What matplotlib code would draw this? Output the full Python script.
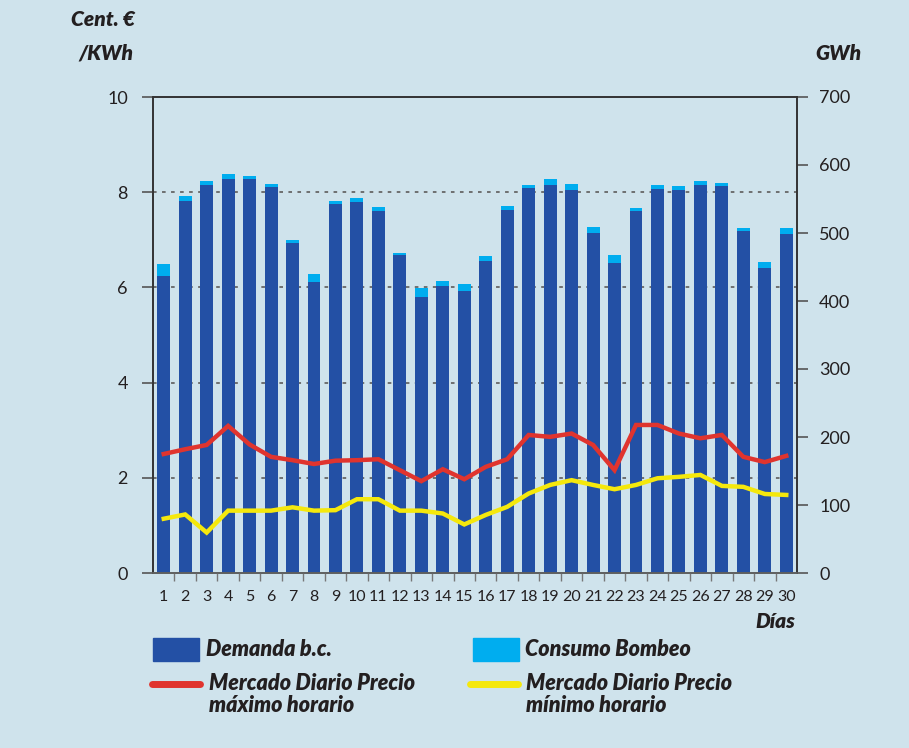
import matplotlib.pyplot as plt
from matplotlib.lines import Line2D
from matplotlib.patches import Rectangle

plt.rcParams['font.family'] = ['Lato', 'DejaVu Sans']

# Days of the month
dias = list(range(1, 31))

# Demanda b.c. (GWh)
demanda = [437, 547, 571, 579, 579, 568, 485, 428, 543, 546,
           532, 468, 406, 422, 415, 459, 534, 566, 571, 563,
           500, 456, 532, 565, 563, 571, 569, 503, 449, 499]

# Consumo Bombeo (GWh), stacked on top of demanda
bombeo = [17, 7, 5, 8, 5, 4, 5, 12, 4, 5,
          6, 3, 13, 7, 10, 7, 6, 5, 8, 9,
          9, 12, 5, 6, 6, 5, 5, 4, 8, 8]

# Mercado Diario precio maximo / minimo horario (cent. EUR/KWh)
precio_max = [2.50, 2.60, 2.69, 3.09, 2.70, 2.44, 2.37, 2.29, 2.36, 2.37,
              2.39, 2.16, 1.93, 2.18, 1.97, 2.23, 2.39, 2.90, 2.86, 2.93,
              2.69, 2.16, 3.11, 3.11, 2.93, 2.83, 2.90, 2.44, 2.33, 2.46]
precio_min = [1.14, 1.23, 0.85, 1.31, 1.31, 1.31, 1.38, 1.31, 1.32, 1.55,
              1.55, 1.31, 1.31, 1.25, 1.02, 1.22, 1.39, 1.67, 1.85, 1.95,
              1.85, 1.76, 1.85, 1.99, 2.02, 2.06, 1.83, 1.81, 1.66, 1.64]

bg = '#cfe3ec'
c_dem = '#2350a5'
c_bom = '#00adef'
c_max = '#e0342e'
c_min = '#f5e80c'
txt = '#231f20'

fig = plt.figure(figsize=(9.09, 7.48), dpi=100, facecolor=bg)
ax = fig.add_axes([153 / 909, 1 - 573 / 748, 644 / 909, 476 / 748])
ax.set_facecolor(bg)
ax2 = ax.twinx()

# bars on right axis (GWh)
ax2.bar(dias, demanda, width=0.6, color=c_dem, zorder=2)
ax2.bar(dias, bombeo, width=0.6, bottom=demanda, color=c_bom, zorder=2)
ax2.set_ylim(0, 700)
ax2.set_yticks(range(0, 701, 100))

# price lines on left axis, drawn above the bars
ax.set_zorder(ax2.get_zorder() + 1)
ax.patch.set_visible(False)
ax2.patch.set_visible(False)
ax.plot(dias, precio_max, color=c_max, lw=3.2, solid_joinstyle='miter', zorder=4)
ax.plot(dias, precio_min, color=c_min, lw=3.2, solid_joinstyle='miter', zorder=4)
ax.set_ylim(0, 10)
ax.set_yticks(range(0, 11, 2))
ax.set_xlim(0.5, 30.5)

# dotted grid lines behind bars
for v in [2, 4, 6, 8]:
    ax2.axhline(v * 70, color='#666666', lw=1.3, ls=(0, (2, 3)), zorder=1)

# ticks and spines
for a in (ax, ax2):
    for s in a.spines.values():
        s.set_color('#333333')
        s.set_linewidth(1.2)
ax.spines['bottom'].set_color('#666666')
ax.tick_params(axis='y', length=8, width=1.2, color='#555555', labelsize=13,
               labelcolor=txt, pad=10)
ax2.tick_params(axis='y', length=8, width=1.2, color='#555555', labelsize=13,
                labelcolor=txt, pad=8)
ax.set_xticks(dias)
ax.set_xticklabels([str(d) for d in dias])
ax.set_xticks([d + 0.5 for d in dias[:-1]], minor=True)
ax.tick_params(axis='x', which='major', length=0, labelsize=11.5, labelcolor=txt, pad=12)
ax.tick_params(axis='x', which='minor', length=6, width=1, color='#777777')

# axis titles
tfont = dict(fontsize=15, fontweight='heavy', fontstyle='italic', color=txt, va='center')
fig.text(135 / 909, 1 - 20 / 748, 'Cent. €', ha='right', **tfont)
fig.text(133 / 909, 1 - 53 / 748, '/KWh', ha='right', **tfont)
fig.text(815 / 909, 1 - 53 / 748, 'GWh', ha='left', **tfont)
fig.text(795 / 909, 1 - 622 / 748, 'Días', ha='right', **tfont)

# legend
lfont = dict(fontsize=15.5, fontweight='heavy', fontstyle='italic', color=txt, va='center')
fig.add_artist(Rectangle((153 / 909, 1 - 661 / 748), 46 / 909, 23 / 748,
                         transform=fig.transFigure, color=c_dem))
fig.text(206 / 909, 1 - 650 / 748, 'Demanda b.c.', **lfont)
fig.add_artist(Rectangle((473 / 909, 1 - 661 / 748), 46 / 909, 23 / 748,
                         transform=fig.transFigure, color=c_bom))
fig.text(525 / 909, 1 - 650 / 748, 'Consumo Bombeo', **lfont)
fig.add_artist(Line2D([152 / 909, 200 / 909], [1 - 684 / 748] * 2, transform=fig.transFigure,
                      color=c_max, lw=5, solid_capstyle='round'))
fig.text(209 / 909, 1 - 683 / 748, 'Mercado Diario Precio', **lfont)
fig.text(209 / 909, 1 - 705 / 748, 'máximo horario', **lfont)
fig.add_artist(Line2D([470 / 909, 518 / 909], [1 - 684 / 748] * 2, transform=fig.transFigure,
                      color=c_min, lw=5, solid_capstyle='round'))
fig.text(526 / 909, 1 - 683 / 748, 'Mercado Diario Precio', **lfont)
fig.text(526 / 909, 1 - 705 / 748, 'mínimo horario', **lfont)

fig.savefig('out.png', dpi=100, facecolor=bg)
